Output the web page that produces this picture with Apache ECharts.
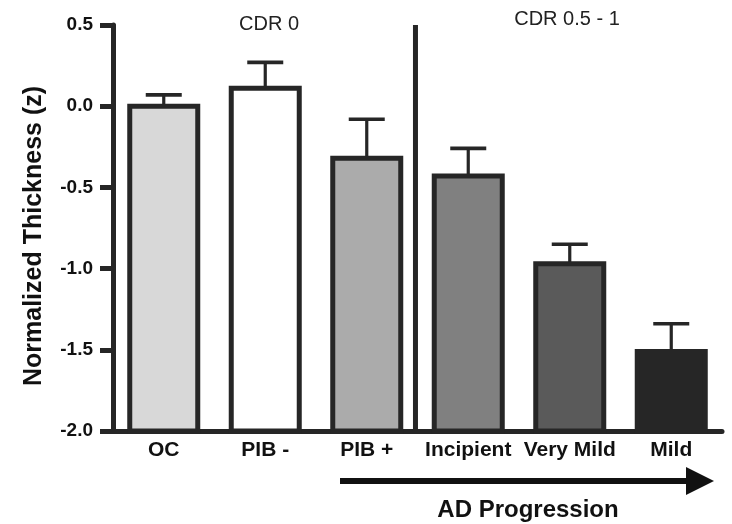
<!DOCTYPE html>
<html>
<head>
<meta charset="utf-8">
<script src="https://cdn.jsdelivr.net/npm/echarts@6/dist/echarts.min.js"></script>
<style>
  html, body { margin: 0; padding: 0; background: #ffffff; }
  #chart { width: 732px; height: 524px; }
</style>
</head>
<body>
<div id="chart"></div>
<script>
// Group labels along the x axis
const groups = ['OC', 'PIB -', 'PIB +', 'Incipient', 'Very Mild', 'Mild'];
// Mean normalized cortical thickness (z) per group
const meanThickness = [0.00, 0.11, -0.32, -0.43, -0.97, -1.51];
// Upper error (SEM) per group
const semThickness = [0.07, 0.16, 0.24, 0.17, 0.12, 0.17];
// Bar fill shades, light to dark with disease stage
const barFills = ['#d8d8d8', '#ffffff', '#ababab', '#808080', '#5a5a5a', '#262626'];
// Y axis range and ticks
const yMin = -2.0;
const yMax = 0.5;
const yStep = 0.5;
// Position of the CDR divider on the group scale (between PIB + and Incipient)
const cdrDivider = 2.98;
// Panel headings
const cdrHeadings = ['CDR 0', 'CDR 0.5 - 1'];

const ink = '#262626';
const font = '"Liberation Sans", Arial, Helvetica, sans-serif';

const chart = echarts.init(document.getElementById('chart'), null, { renderer: 'canvas' });

const barData = meanThickness.map((v, i) => [i, v]);
const errData = meanThickness.map((v, i) => [i, v, v + semThickness[i]]);

chart.setOption({
  animation: false,
  backgroundColor: '#ffffff',
  grid: { left: 113, right: 10, top: 25, bottom: 93, containLabel: false },
  xAxis: [
    {
      type: 'category',
      data: groups,
      axisLine: { show: true, onZero: false, lineStyle: { color: ink, width: 5 } },
      axisTick: { show: false },
      axisLabel: {
        color: '#111', fontFamily: font, fontWeight: 'bold', fontSize: 21, margin: 9,
        interval: 0
      },
      splitLine: { show: false }
    },
    {
      type: 'value', min: 0, max: groups.length, show: false
    }
  ],
  yAxis: {
    type: 'value',
    min: yMin, max: yMax, interval: yStep,
    name: 'Normalized Thickness (z)',
    nameLocation: 'middle',
    nameGap: 66,
    nameTextStyle: {
      color: '#111', fontFamily: font, fontWeight: 'bold', fontSize: 25,
      padding: [0, 16, 0, 0]
    },
    axisLine: { show: true, onZero: false, lineStyle: { color: ink, width: 5 } },
    axisTick: { show: true, inside: false, length: 13, lineStyle: { color: ink, width: 5 } },
    axisLabel: {
      color: '#111', fontFamily: font, fontWeight: 'bold', fontSize: 19, margin: 20,
      formatter: v => v.toFixed(1)
    },
    splitLine: { show: false }
  },
  series: [
    {
      // Bars rise from the bottom of the axis to each group mean
      type: 'custom',
      xAxisIndex: 0,
      data: barData,
      z: 3,
      renderItem: (params, api) => {
        const i = api.value(0);
        const top = api.coord([i, api.value(1)]);
        const base = api.coord([i, yMin]);
        const w = api.size([1, 0])[0] * 0.67;
        return {
          type: 'rect',
          shape: { x: top[0] - w / 2, y: top[1], width: w, height: base[1] - top[1] },
          style: { fill: barFills[params.dataIndex], stroke: ink, lineWidth: 5 }
        };
      }
    },
    {
      // Upper error bars
      type: 'custom',
      xAxisIndex: 0,
      data: errData,
      z: 2,
      renderItem: (params, api) => {
        const i = api.value(0);
        const lo = api.coord([i, api.value(1)]);
        const hi = api.coord([i, api.value(2)]);
        const cap = 18;
        return {
          type: 'group',
          children: [
            { type: 'line', shape: { x1: lo[0], y1: lo[1], x2: hi[0], y2: hi[1] },
              style: { stroke: ink, lineWidth: 3.2 } },
            { type: 'line', shape: { x1: hi[0] - cap, y1: hi[1], x2: hi[0] + cap, y2: hi[1] },
              style: { stroke: ink, lineWidth: 3.6 } }
          ]
        };
      }
    },
    {
      // Divider between the CDR 0 and CDR 0.5 - 1 groups
      type: 'line',
      xAxisIndex: 1,
      data: [[cdrDivider, yMax], [cdrDivider, yMin]],
      symbol: 'none',
      lineStyle: { color: ink, width: 5 },
      z: 4
    }
  ],
  graphic: [
    {
      type: 'text',
      style: { text: cdrHeadings[0], x: 269, y: 24, fill: '#222', font: '20px ' + font,
        textAlign: 'center', textVerticalAlign: 'middle' }
    },
    {
      type: 'text',
      style: { text: cdrHeadings[1], x: 567, y: 19, fill: '#222', font: '20px ' + font,
        textAlign: 'center', textVerticalAlign: 'middle' }
    },
    {
      type: 'line',
      shape: { x1: 340, y1: 481, x2: 692, y2: 481 },
      style: { stroke: '#111', lineWidth: 6 }
    },
    {
      type: 'polygon',
      shape: { points: [[686, 467], [714, 481], [686, 495]] },
      style: { fill: '#111' }
    },
    {
      type: 'text',
      style: { text: 'AD Progression', x: 528, y: 510, fill: '#111',
        font: 'bold 24px ' + font, textAlign: 'center', textVerticalAlign: 'middle' }
    }
  ]
});
</script>
</body>
</html>
